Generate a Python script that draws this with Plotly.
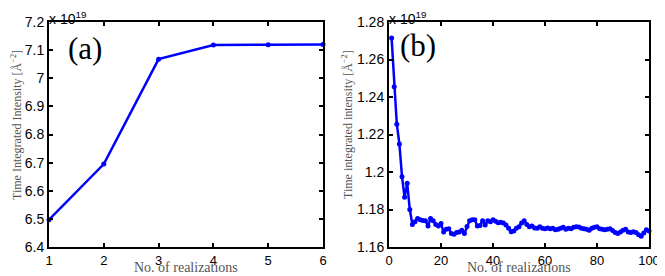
import plotly.graph_objects as go

# Panel (a)
realizations_a = [1, 2, 3, 4, 5, 6]
intensity_a = [6.497, 6.695, 7.068, 7.118, 7.119, 7.120]  # x 1e19

# Panel (b)
realizations_b = list(range(1, 101))
intensity_b = [
    1.2715, 1.2455, 1.2255, 1.2150, 1.1975, 1.1865, 1.1940, 1.1800, 1.1720, 1.1735,
    1.1752, 1.1745, 1.1742, 1.1740, 1.1712, 1.1752, 1.1740, 1.1720, 1.1712, 1.1725,
    1.1680, 1.1695, 1.1698, 1.1672, 1.1668, 1.1678, 1.1680, 1.1690, 1.1672, 1.1710,
    1.1740, 1.1745, 1.1745, 1.1712, 1.1715, 1.1740, 1.1718, 1.1740, 1.1735, 1.1745,
    1.1738, 1.1730, 1.1732, 1.1728, 1.1718, 1.1700, 1.1682, 1.1685, 1.1700, 1.1708,
    1.1728, 1.1740, 1.1720, 1.1708, 1.1712, 1.1702, 1.1700, 1.1708, 1.1700, 1.1698,
    1.1702, 1.1698, 1.1700, 1.1692, 1.1695, 1.1700, 1.1705, 1.1695, 1.1700, 1.1698,
    1.1705, 1.1708, 1.1706, 1.1700, 1.1698, 1.1695, 1.1690, 1.1700, 1.1705, 1.1708,
    1.1698, 1.1695, 1.1692, 1.1695, 1.1698, 1.1688, 1.1678, 1.1672, 1.1680, 1.1690,
    1.1695, 1.1680, 1.1678, 1.1682, 1.1678, 1.1665, 1.1658, 1.1675, 1.1692, 1.1685,
]

ticks_a_y = [6.4, 6.5, 6.6, 6.7, 6.8, 6.9, 7.0, 7.1, 7.2]
ticklabels_a_y = ["6.4", "6.5", "6.6", "6.7", "6.8", "6.9", "7", "7.1", "7.2"]
ticks_b_y = [1.16, 1.18, 1.20, 1.22, 1.24, 1.26, 1.28]
ticklabels_b_y = ["1.16", "1.18", "1.2", "1.22", "1.24", "1.26", "1.28"]
ticks_b_x = [0, 20, 40, 60, 80, 100]

# page has an 8px body margin; figure fills the rest of the 665x276 window
W, H, OFF = 657, 268, 8


def xp(X):
    return (X - OFF) / W


def yp(Y):
    return 1 - (Y - OFF) / H


BLUE = "#0000ff"
SERIF = "Liberation Serif"
SANS = "Liberation Sans"
tickfont = dict(family=SANS, size=14, color="black")
xtickfont = dict(family=SANS, size=13, color="black")
xtitlefont = dict(family=SERIF, size=14, color="#555555")
ytitlefont = dict(family=SERIF, size=12, color="#555555")

fig = go.Figure()
fig.add_trace(go.Scatter(x=realizations_a, y=intensity_a, mode="lines+markers",
                         line=dict(color=BLUE, width=2.5), marker=dict(color=BLUE, size=5),
                         xaxis="x", yaxis="y", showlegend=False, cliponaxis=False))
fig.add_trace(go.Scatter(x=realizations_b, y=intensity_b, mode="lines+markers",
                         line=dict(color=BLUE, width=2.5), marker=dict(color=BLUE, size=5),
                         xaxis="x2", yaxis="y2", showlegend=False, cliponaxis=False))

ax_common = dict(showgrid=False, zeroline=False, showline=True, linecolor="black", linewidth=2,
                 mirror="allticks", ticks="inside", ticklen=4, tickwidth=1.5, tickcolor="black",
                 automargin=False, ticklabelstandoff=0)

ydom = [yp(247), yp(22)]
fig.update_layout(
    width=W, height=H,
    margin=dict(l=0, r=0, t=0, b=0, pad=0, autoexpand=False),
    paper_bgcolor="white", plot_bgcolor="white",
    xaxis=dict(domain=[xp(49), xp(323)], range=[1, 6], tickvals=realizations_a,
               anchor="y", tickfont=xtickfont, **ax_common),
    yaxis=dict(domain=ydom, range=[6.4, 7.2], tickvals=ticks_a_y, ticktext=ticklabels_a_y,
               anchor="x", tickfont=tickfont, **ax_common),
    xaxis2=dict(domain=[xp(389), xp(649)], range=[0, 100], tickvals=ticks_b_x,
                anchor="y2", tickfont=xtickfont, **ax_common),
    yaxis2=dict(domain=ydom, range=[1.16, 1.28], tickvals=ticks_b_y, ticktext=ticklabels_b_y,
                anchor="x2", tickfont=tickfont, **ax_common),
)

annotations = [
    dict(text="(a)", x=xp(85), y=yp(48), xref="paper", yref="paper", showarrow=False,
         xanchor="center", yanchor="middle",
         font=dict(family=SERIF, size=31, color="black")),
    dict(text="(b)", x=xp(418), y=yp(46), xref="paper", yref="paper", showarrow=False,
         xanchor="center", yanchor="middle",
         font=dict(family=SERIF, size=31, color="black")),
    dict(text="x 10<sup>19</sup>", x=xp(48), y=1, xref="paper", yref="paper",
         showarrow=False, xanchor="left", yanchor="top", borderpad=0,
         font=dict(family=SANS, size=14, color="black")),
    dict(text="x 10<sup>19</sup>", x=xp(388), y=1, xref="paper", yref="paper",
         showarrow=False, xanchor="left", yanchor="top", borderpad=0,
         font=dict(family=SANS, size=14, color="black")),
    dict(text="No. of realizations", x=xp(186), y=yp(276), xref="paper", yref="paper",
         showarrow=False, xanchor="center", yanchor="bottom", borderpad=0, font=xtitlefont),
    dict(text="No. of realizations", x=xp(519), y=yp(276), xref="paper", yref="paper",
         showarrow=False, xanchor="center", yanchor="bottom", borderpad=0, font=xtitlefont),
    dict(text="Time Integrated Intensity [Å<sup>−2</sup>]", x=xp(16), y=yp(125),
         xref="paper", yref="paper", showarrow=False, textangle=-90,
         xanchor="center", yanchor="middle", font=ytitlefont),
    dict(text="Time integrated intensity [Å<sup>−2</sup>]", x=xp(347), y=yp(125),
         xref="paper", yref="paper", showarrow=False, textangle=-90,
         xanchor="center", yanchor="middle", font=ytitlefont),
]
fig.update_layout(annotations=annotations)

fig.write_html("out.html")
